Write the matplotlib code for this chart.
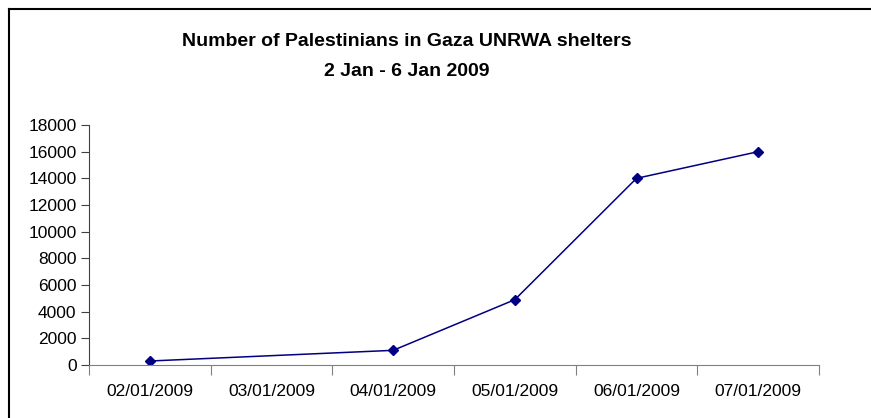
import matplotlib
matplotlib.use('Agg')
import matplotlib.pyplot as plt
from matplotlib.lines import Line2D

# categories on the x axis and the observed values
dates = ['02/01/2009', '03/01/2009', '04/01/2009', '05/01/2009', '06/01/2009', '07/01/2009']
obs_dates = ['02/01/2009', '04/01/2009', '05/01/2009', '06/01/2009', '07/01/2009']
people = [300, 1100, 4900, 14000, 16000]
yticks = [0, 2000, 4000, 6000, 8000, 10000, 12000, 14000, 16000, 18000]

plt.rcParams['font.family'] = ['Liberation Sans', 'DejaVu Sans']

fig = plt.figure(figsize=(8.71, 4.18), dpi=100)
ax = fig.add_axes([89/871, 53/418, 730/871, 240/418])

xs = [dates.index(d) for d in obs_dates]
ax.plot(xs, people, color='#000080', linewidth=1.1, marker='D', markersize=5.5)

ax.set_xlim(-0.5, len(dates) - 0.5)
ax.set_ylim(0, 18000)
ax.set_yticks(yticks)
ax.set_yticklabels([str(v) for v in yticks])

# tick marks at category boundaries, labels at centres
ax.set_xticks([i - 0.5 for i in range(len(dates) + 1)])
ax.set_xticklabels([])
ax.set_xticks(range(len(dates)), minor=True)
ax.set_xticklabels(dates, minor=True)
ax.tick_params(axis='x', which='minor', length=0, pad=14, labelsize=12.5)
ax.tick_params(axis='x', which='major', length=7, direction='out', color='#808080')
ax.tick_params(axis='y', length=6, direction='out', pad=3, labelsize=12.5, color='#404040')

for s in ['top', 'right']:
    ax.spines[s].set_visible(False)
ax.spines['left'].set_color('#404040')
ax.spines['bottom'].set_color('#808080')

fig.text(407/871, 1 - 41/418, 'Number of Palestinians in Gaza UNRWA shelters',
         ha='center', va='center', fontsize=14, fontweight='bold')
fig.text(407/871, 1 - 71/418, '2 Jan - 6 Jan 2009',
         ha='center', va='center', fontsize=14, fontweight='bold')

# chart border (left and top edges visible)
fig.add_artist(Line2D([8.5/871, 8.5/871], [0, 1 - 9/418], transform=fig.transFigure, color='black', linewidth=1.5))
fig.add_artist(Line2D([8.5/871, 1], [1 - 9/418, 1 - 9/418], transform=fig.transFigure, color='black', linewidth=1.5))

plt.savefig('out.png', dpi=100)
